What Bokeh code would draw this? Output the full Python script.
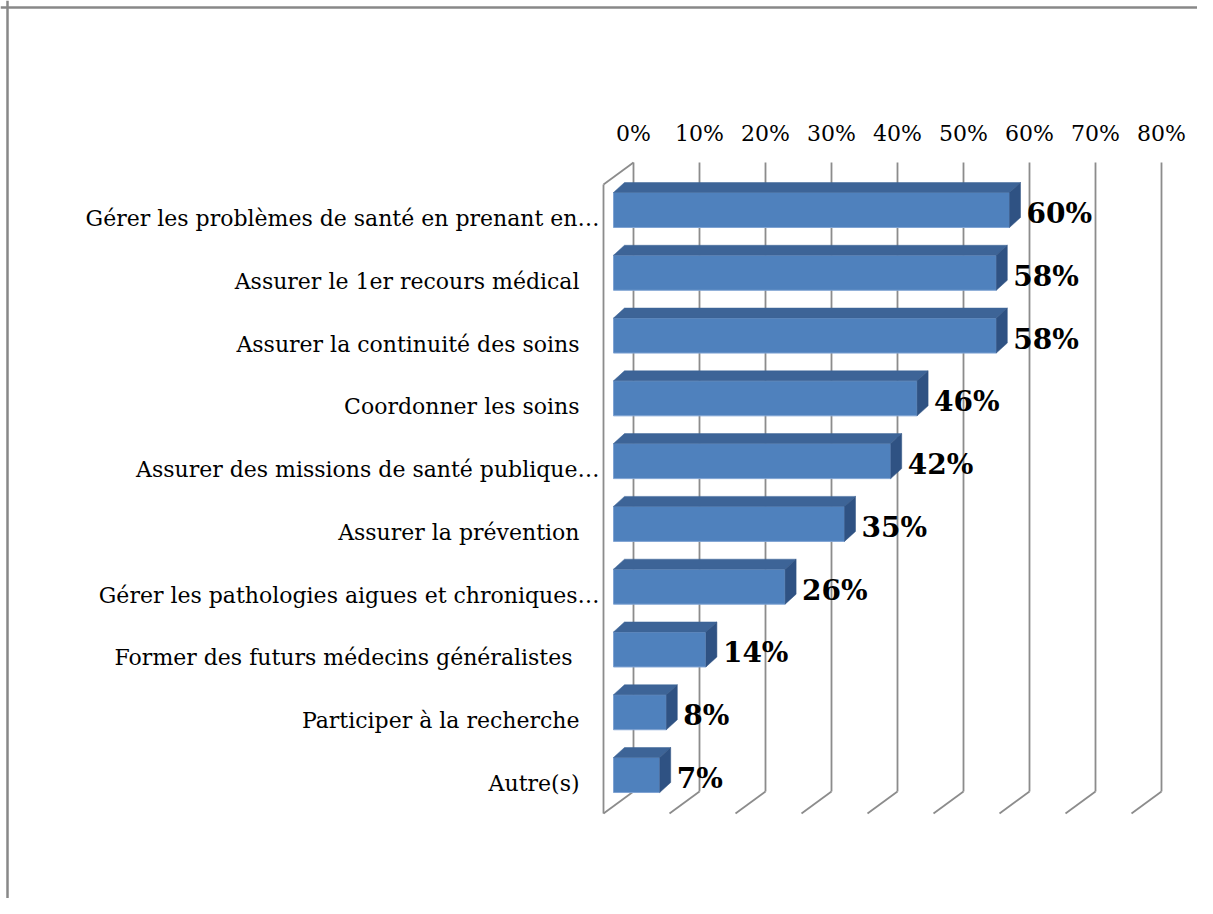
from bokeh.plotting import figure
from bokeh.models import Range1d, Span, ColumnDataSource
from bokeh.core.properties import value
from bokeh.embed import file_html
from bokeh.resources import INLINE

# ---------------- data ----------------
categories = [
    "Gérer les problèmes de santé en prenant en…",
    "Assurer le 1er recours médical",
    "Assurer la continuité des soins",
    "Coordonner les soins",
    "Assurer des missions de santé publique…",
    "Assurer la prévention",
    "Gérer les pathologies aigues et chroniques…",
    "Former  des futurs médecins généralistes",
    "Participer à la recherche",
    "Autre(s)",
]
values = [60, 58, 58, 46, 42, 35, 26, 14, 8, 7]
ticks = [0, 10, 20, 30, 40, 50, 60, 70, 80]
tick_labels = ["0%", "10%", "20%", "30%", "40%", "50%", "60%", "70%", "80%"]
value_labels = [f"{v}%" for v in values]

# ---------------- layout constants ----------------
W, H = 1197, 898
PX_PER_PCT = 6.6          # horizontal pixels per percent
BACK_X0 = 633.0           # canvas px of 0% on the back wall
CAT_Y0 = 209.5            # canvas px of the first bar's centre
CAT_STEP = 62.78          # px between categories
n = len(categories)


def dx(px):
    return px / PX_PER_PCT


def dy(px):  # positive = downwards (index increases downward)
    return px / CAT_STEP


x_range = Range1d(-BACK_X0 / PX_PER_PCT, (W - BACK_X0) / PX_PER_PCT)
y_range = Range1d((H - CAT_Y0) / CAT_STEP, -CAT_Y0 / CAT_STEP)

p = figure(width=W, height=H, x_range=x_range, y_range=y_range,
           output_backend="svg", toolbar_location=None,
           min_border=0, outline_line_color=None)
p.xaxis.visible = False
p.yaxis.visible = False
p.grid.visible = False
p.background_fill_color = "white"
p.border_fill_color = "white"

GRID = "#8C8C8C"
GW = 1.8

WALL_TOP = -dy(47.5)
WALL_BOTTOM = (n - 1) + dy(16.5)
FDX, FDY = dx(-30), dy(22)   # depth of the wall (back -> front)

# back-wall vertical grid lines
p.segment(x0=ticks, y0=[WALL_TOP] * len(ticks), x1=ticks, y1=[WALL_BOTTOM] * len(ticks),
          line_color=GRID, line_width=GW)
# floor diagonals
p.segment(x0=ticks, y0=[WALL_BOTTOM] * len(ticks),
          x1=[t + FDX for t in ticks], y1=[WALL_BOTTOM + FDY] * len(ticks),
          line_color=GRID, line_width=GW)
# left side wall
p.segment(x0=[ticks[0], ticks[0] + FDX], y0=[WALL_TOP, WALL_TOP + FDY],
          x1=[ticks[0] + FDX, ticks[0] + FDX], y1=[WALL_TOP + FDY, WALL_BOTTOM + FDY],
          line_color=GRID, line_width=GW)

# ---------------- 3D bars ----------------
FRONT = dx(-20)
HALF = dy(17.5)
DEPX, DEPY = dx(11), dy(-10)

front_l, front_r, front_t, front_b = [], [], [], []
top_xs, top_ys, side_xs, side_ys = [], [], [], []
for i, v in enumerate(values):
    L = FRONT
    R = FRONT + v
    T = i - HALF
    B = i + HALF
    front_l.append(L); front_r.append(R); front_t.append(T); front_b.append(B)
    top_xs.append([L, L + DEPX, R + DEPX, R])
    top_ys.append([T, T + DEPY, T + DEPY, T])
    side_xs.append([R, R + DEPX, R + DEPX, R])
    side_ys.append([T, T + DEPY, B + DEPY, B])

p.quad(left=front_l, right=front_r, top=front_t, bottom=front_b,
       fill_color="#4F81BD", line_color="#7FA3D3", line_width=1)
p.patches(xs=top_xs, ys=top_ys, fill_color="#3D6497", line_color="#3D6497", line_width=0.5)
p.patches(xs=side_xs, ys=side_ys, fill_color="#2F5283", line_color="#2F5283", line_width=0.5)

# ---------------- texts ----------------
FONT = value("DejaVu Serif")

p.text(x=ticks, y=[-dy(76.5)] * len(ticks), text=tick_labels,
       text_font=FONT, text_font_size="22px", text_color="#000000",
       text_align="center", text_baseline="alphabetic")

cat_x = [FRONT + dx(-14) if c.endswith("…") else FRONT + dx(-34) for c in categories]
cat_y = [i + dy(8.5) for i in range(n)]
p.text(x=cat_x, y=cat_y, text=categories,
       text_font=FONT, text_font_size="22px", text_color="#000000",
       text_align="right", text_baseline="alphabetic")

val_x = [FRONT + v + DEPX + dx(6) for v in values]
val_y = [i + dy(3.5) for i in range(n)]
p.text(x=val_x, y=val_y, text=value_labels,
       text_font=FONT, text_font_size="28px", text_font_style="bold", text_color="#000000",
       text_align="left", text_baseline="alphabetic")

# chart frame (top and left edges)
p.add_layout(Span(location=-dy(CAT_Y0 - 7), dimension="width", line_color="#888888", line_width=2.5))
p.add_layout(Span(location=-dx(BACK_X0 - 7), dimension="height", line_color="#888888", line_width=2.5))

open("out.html", "w").write(file_html(p, INLINE))
